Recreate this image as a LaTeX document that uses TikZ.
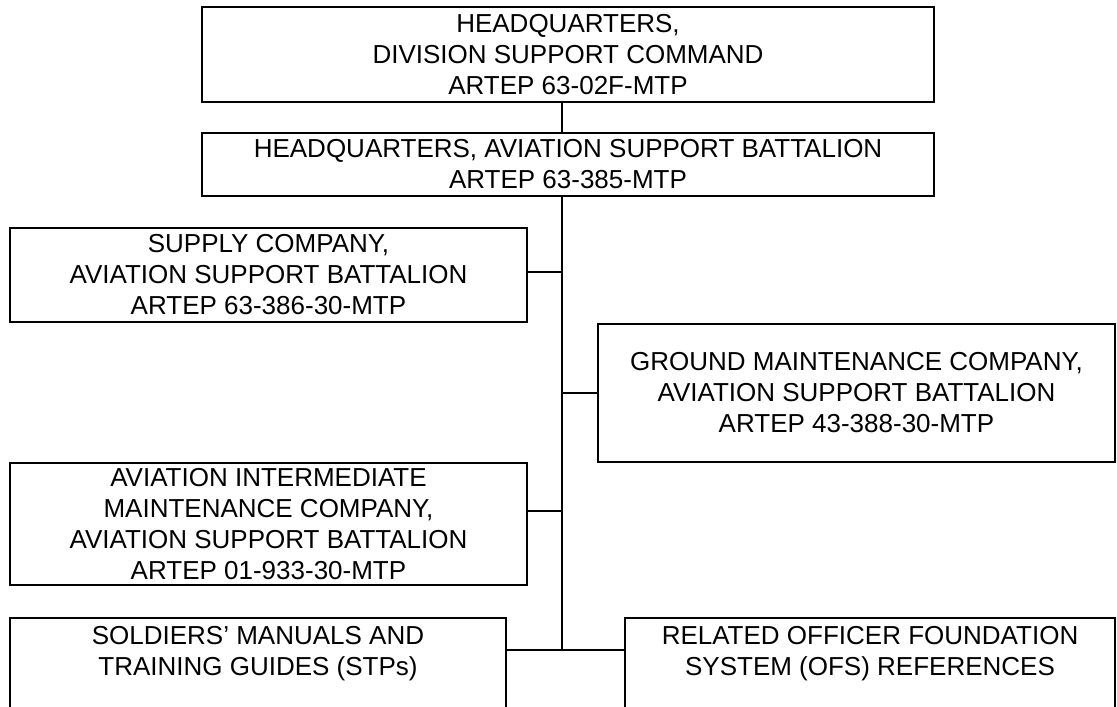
\documentclass[tikz,border=0pt]{standalone}
\usepackage{fontspec}
\setmainfont{Liberation Sans}
\begin{document}
\begin{tikzpicture}[x=1pt,y=-1pt,
  box/.style={draw=black, line width=2pt, rectangle, inner sep=0pt, align=center,
    font=\fontsize{26}{31}\selectfont},
  lbl/.style={inner sep=0pt, align=center, font=\fontsize{26}{31}\selectfont},
  conn/.style={draw=black, line width=1.6pt}]
\useasboundingbox (0,0) rectangle (1117,707);
\clip (0,0) rectangle (1117,707);
\coordinate (tx) at (562,0);
\node[box, minimum width=732pt, minimum height=95pt] (top) at (568,54.5)
  {HEADQUARTERS,\\DIVISION SUPPORT COMMAND\\ARTEP 63-02F-MTP};
\node[box, minimum width=732pt, minimum height=63pt] (hq) at (568,164.5)
  {HEADQUARTERS, AVIATION SUPPORT BATTALION\\ARTEP 63-385-MTP};
\node[box, minimum width=517pt, minimum height=94pt] (sup) at (268.5,275)
  {SUPPLY COMPANY,\\AVIATION SUPPORT BATTALION\\ARTEP 63-386-30-MTP};
\node[box, minimum width=517pt, minimum height=138pt] (gnd) at (856.5,393)
  {GROUND MAINTENANCE COMPANY,\\AVIATION SUPPORT BATTALION\\ARTEP 43-388-30-MTP};
\node[box, minimum width=517pt, minimum height=122pt] (avim) at (268.5,524)
  {AVIATION INTERMEDIATE\\MAINTENANCE COMPANY,\\AVIATION SUPPORT BATTALION\\ARTEP 01-933-30-MTP};
\node[box, minimum width=496pt, minimum height=122pt] (sol) at (258,679) {};
\node[box, minimum width=490pt, minimum height=122pt] (rel) at (870,679) {};
\node[lbl] (soltxt) at (258,654) {SOLDIERS’ MANUALS AND\\TRAINING GUIDES (STPs)};
\node[lbl] (reltxt) at (870,654) {RELATED OFFICER FOUNDATION\\SYSTEM (OFS) REFERENCES};
\coordinate (j) at (562,650);
\draw[conn] (top.south -| tx) -- (hq.north -| tx);
\draw[conn] (hq.south -| tx) -- (j);
\draw[conn] ([yshift=3pt]sup.east) -- ([yshift=3pt]sup.east -| tx);
\draw[conn] (gnd.west) -- (gnd.west -| tx);
\draw[conn] ([yshift=13pt]avim.east) -- ([yshift=13pt]avim.east -| tx);
\draw[conn] (sol.east |- j) -- (rel.west |- j);
\end{tikzpicture}
\end{document}
